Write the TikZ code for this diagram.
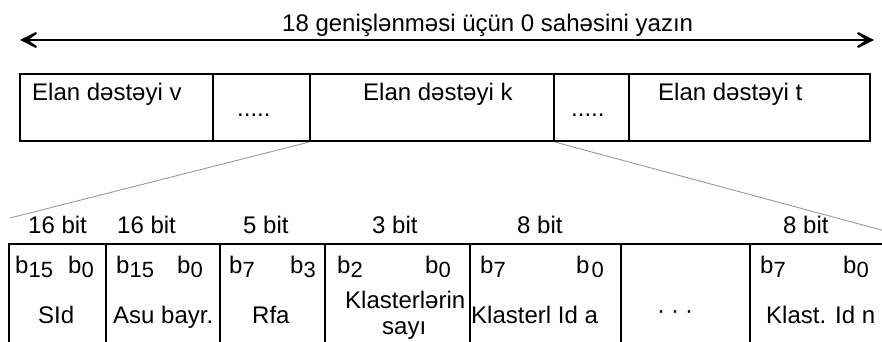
\documentclass[tikz,border=0pt]{standalone}
\usepackage{fontspec}
\setmainfont{Liberation Sans}
\usepackage{xcolor}
\usetikzlibrary{arrows.meta}

\newcommand{\bsub}[1]{b\raisebox{-4pt}{\fontsize{22}{22}\selectfont #1}}

\tikzset{
  cell/.style={draw, line width=2.2pt, inner sep=0pt, minimum height=67pt},
  field/.style={draw, line width=2.2pt, inner sep=0pt, minimum height=106pt},
  txt/.style={inner sep=0pt, text=black, font=\fontsize{24}{28}\selectfont},
  zoomline/.style={draw=gray!80, line width=0.9pt},
  widearrow/.style={line width=2.6pt,
    {Stealth[length=28pt,width=28pt,inset=20pt]}-{Stealth[length=28pt,width=28pt,inset=20pt]}}
}

\begin{document}
\begin{tikzpicture}[x=1pt,y=-1pt]
\useasboundingbox (0,0) rectangle (882,342);
\clip (0,0) rectangle (882,342);

%% Arrow %%

\coordinate (arrL) at (20,40);
\coordinate (arrR) at (874,40);
\draw[widearrow] (arrL) -- (arrR);
\node[txt, anchor=base west] (title) at (282,32) {18 genişlənməsi üçün 0 sahəsini yazın};


%% Top row %%

\node[cell, minimum width=193pt] (dv) at (116.5,107.5) {};
\node[cell, minimum width=97pt] (dots1) at (261.5,107.5) {};
\node[cell, minimum width=244pt] (dk) at (432,107.5) {};
\node[cell, minimum width=75pt] (dots2) at (591.5,107.5) {};
\node[cell, minimum width=241pt] (dt) at (749.5,107.5) {};

\node[txt, anchor=base west] (dvtext) at (32,101) {Elan dəstəyi v};
\node[txt, anchor=base west] (dots1text) at (237,116) {.....};
\node[txt, anchor=base west] (dktext) at (363,101) {Elan dəstəyi k};
\node[txt, anchor=base west] (dots2text) at (571,116) {.....};
\node[txt, anchor=base west] (dttext) at (658,101) {Elan dəstəyi t};


%% Zoom lines %%

\coordinate (zoomL) at (10,218);
\coordinate (zoomR) at (900,235);
\draw[zoomline] (dk.south west) -- (zoomL);
\draw[zoomline] (dk.south east) -- (zoomR);


%% Bottom row %%

\node[field, minimum width=97pt] (sid) at (57.5,297) {};
\node[field, minimum width=114pt] (asu) at (163,297) {};
\node[field, minimum width=105pt] (rfa) at (272.5,297) {};
\node[field, minimum width=145pt] (ksay) at (397.5,297) {};
\node[field, minimum width=151pt] (kida) at (545.5,297) {};
\node[field, minimum width=129pt] (kdots) at (685.5,297) {};
\node[field, minimum width=150pt] (kidn) at (825,297) {};


% bit sizes
\node[txt, anchor=base west] (bits1) at (28,233) {16 bit};
\node[txt, anchor=base west] (bits2) at (117,233) {16 bit};
\node[txt, anchor=base west] (bits3) at (243,233) {5 bit};
\node[txt, anchor=base west] (bits4) at (372,233) {3 bit};
\node[txt, anchor=base west] (bits5) at (517,233) {8 bit};
\node[txt, anchor=base west] (bits6) at (783,233) {8 bit};


% bit numbers
\node[txt, anchor=base west] (sidhi) at (15,273) {\bsub{15}};
\node[txt, anchor=base west] (sidlo) at (68,273) {\bsub{0}};
\node[txt, anchor=base west] (asuhi) at (116,273) {\bsub{15}};
\node[txt, anchor=base west] (asulo) at (177,273) {\bsub{0}};
\node[txt, anchor=base west] (rfahi) at (229,273) {\bsub{7}};
\node[txt, anchor=base west] (rfalo) at (290,273) {\bsub{3}};
\node[txt, anchor=base west] (ksayhi) at (337,273) {\bsub{2}};
\node[txt, anchor=base west] (ksaylo) at (425,273) {\bsub{0}};
\node[txt, anchor=base west] (kidahi) at (480,273) {\bsub{7}};
\node[txt, anchor=base west] (kidalo) at (576,273) {b\hspace{2pt}\raisebox{-4pt}{\fontsize{22}{22}\selectfont 0}};
\node[txt, anchor=base west] (kidnhi) at (760,273) {\bsub{7}};
\node[txt, anchor=base west] (kidnlo) at (843,273) {\bsub{0}};


% field names
\node[txt, anchor=base west] (sidname) at (38,323) {SId};
\node[txt, anchor=base west] (asuname) at (113,323) {Asu bayr.};
\node[txt, anchor=base west] (rfaname) at (252,323) {Rfa};
\node[txt, anchor=base west] (ksayname) at (345,308) {Klasterlərin};
\node[txt, anchor=base west] (ksayname2) at (382,334) {sayı};
\node[txt, anchor=base west] (kidaname) at (471,323) {Klasterl Id a};
\node[txt, anchor=base west] (kdotsname) at (657,318) {·\hspace{6pt}·\hspace{6pt}·};
\node[txt, anchor=base west] (kidnname) at (766,323) {Klast. Id n};

\end{tikzpicture}
\end{document}
